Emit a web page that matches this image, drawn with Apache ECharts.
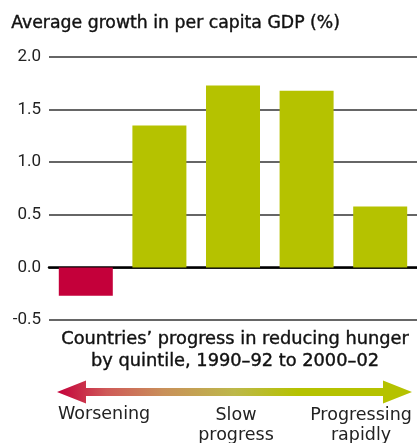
<!DOCTYPE html>
<html><head><meta charset="utf-8">
<style>html,body{margin:0;padding:0;background:#fff}#c{width:417px;height:443px}</style>
<script src="https://cdn.jsdelivr.net/npm/echarts@6/dist/echarts.min.js"></script>
</head><body><div id="c"></div>
<script>
var categories = ['Q1', 'Q2', 'Q3', 'Q4', 'Q5'];
var growth = [-0.27, 1.35, 1.73, 1.68, 0.58];
var yTicks = { min: -0.5, max: 2.0, interval: 0.5 };
var title = 'Average growth in per capita GDP (%)';
var xTitle = ['Countries\u2019 progress in reducing hunger', 'by quintile, 1990\u201392 to 2000\u201302'];
var scaleLabels = ['Worsening', 'Slow\nprogress', 'Progressing\nrapidly'];

var RED = '#c4003a', GREEN = '#b5c200';
var font = '"DejaVu Sans"';
var chart = echarts.init(document.getElementById('c'), null, { renderer: 'canvas' });
var barColors = growth.map(function (v) { return v < 0 ? RED : GREEN; });

var arrowY = 392;
chart.setOption({
  animation: false,
  grid: { left: 49, top: 57, bottom: 123, width: 372, containLabel: false },
  xAxis: {
    type: 'category', data: categories,
    axisLine: { onZero: true, lineStyle: { color: '#000', width: 2.5 } },
    axisTick: { show: false }, axisLabel: { show: false }
  },
  yAxis: {
    type: 'value', min: yTicks.min, max: yTicks.max, interval: yTicks.interval,
    axisLine: { show: false }, axisTick: { show: false },
    axisLabel: { margin: 8, fontFamily: 'Roboto', fontSize: 17, color: '#222',
      formatter: function (v) { return v.toFixed(1); } },
    splitLine: { lineStyle: { color: '#333', width: 1.5 } }
  },
  series: [{
    type: 'bar', barWidth: 54,
    data: growth.map(function (v, i) { return { value: v, itemStyle: { color: barColors[i] } }; })
  }],
  graphic: [
    { type: 'text', left: 11, top: 15, style: { text: title, font: '17.3px ' + font, fill: '#111', stroke: '#111', lineWidth: 0.4 } },
    { type: 'text', x: 235, y: 330, style: { text: xTitle[0], font: '17.8px ' + font, fill: '#111', stroke: '#111', lineWidth: 0.4, textAlign: 'center' } },
    { type: 'text', x: 235, y: 352, style: { text: xTitle[1], font: '17.8px ' + font, fill: '#111', stroke: '#111', lineWidth: 0.4, textAlign: 'center' } },
    { type: 'polygon', shape: { points: [
        [57, arrowY], [86, arrowY - 11.5], [86, arrowY - 4], [383, arrowY - 4], [383, arrowY - 11.5],
        [412, arrowY], [383, arrowY + 11.5], [383, arrowY + 4], [86, arrowY + 4], [86, arrowY + 11.5]] },
      style: { fill: new echarts.graphic.LinearGradient(0, 0, 1, 0, [
        { offset: 0, color: RED }, { offset: 0.14, color: '#cf5a58' }, { offset: 0.3, color: '#c9905a' }, { offset: 0.5, color: '#bdb84a' }, { offset: 0.68, color: GREEN }, { offset: 1, color: GREEN }]) } },
    { type: 'text', x: 58, y: 405, style: { text: scaleLabels[0], font: '17.5px ' + font, fill: '#222', textAlign: 'left' } },
    { type: 'text', x: 236, y: 405, style: { text: scaleLabels[1], font: '17.5px ' + font, fill: '#222', textAlign: 'center', lineHeight: 20 } },
    { type: 'text', x: 361, y: 405, style: { text: scaleLabels[2], font: '17.5px ' + font, fill: '#222', textAlign: 'center', lineHeight: 20 } }
  ]
});
</script></body></html>
